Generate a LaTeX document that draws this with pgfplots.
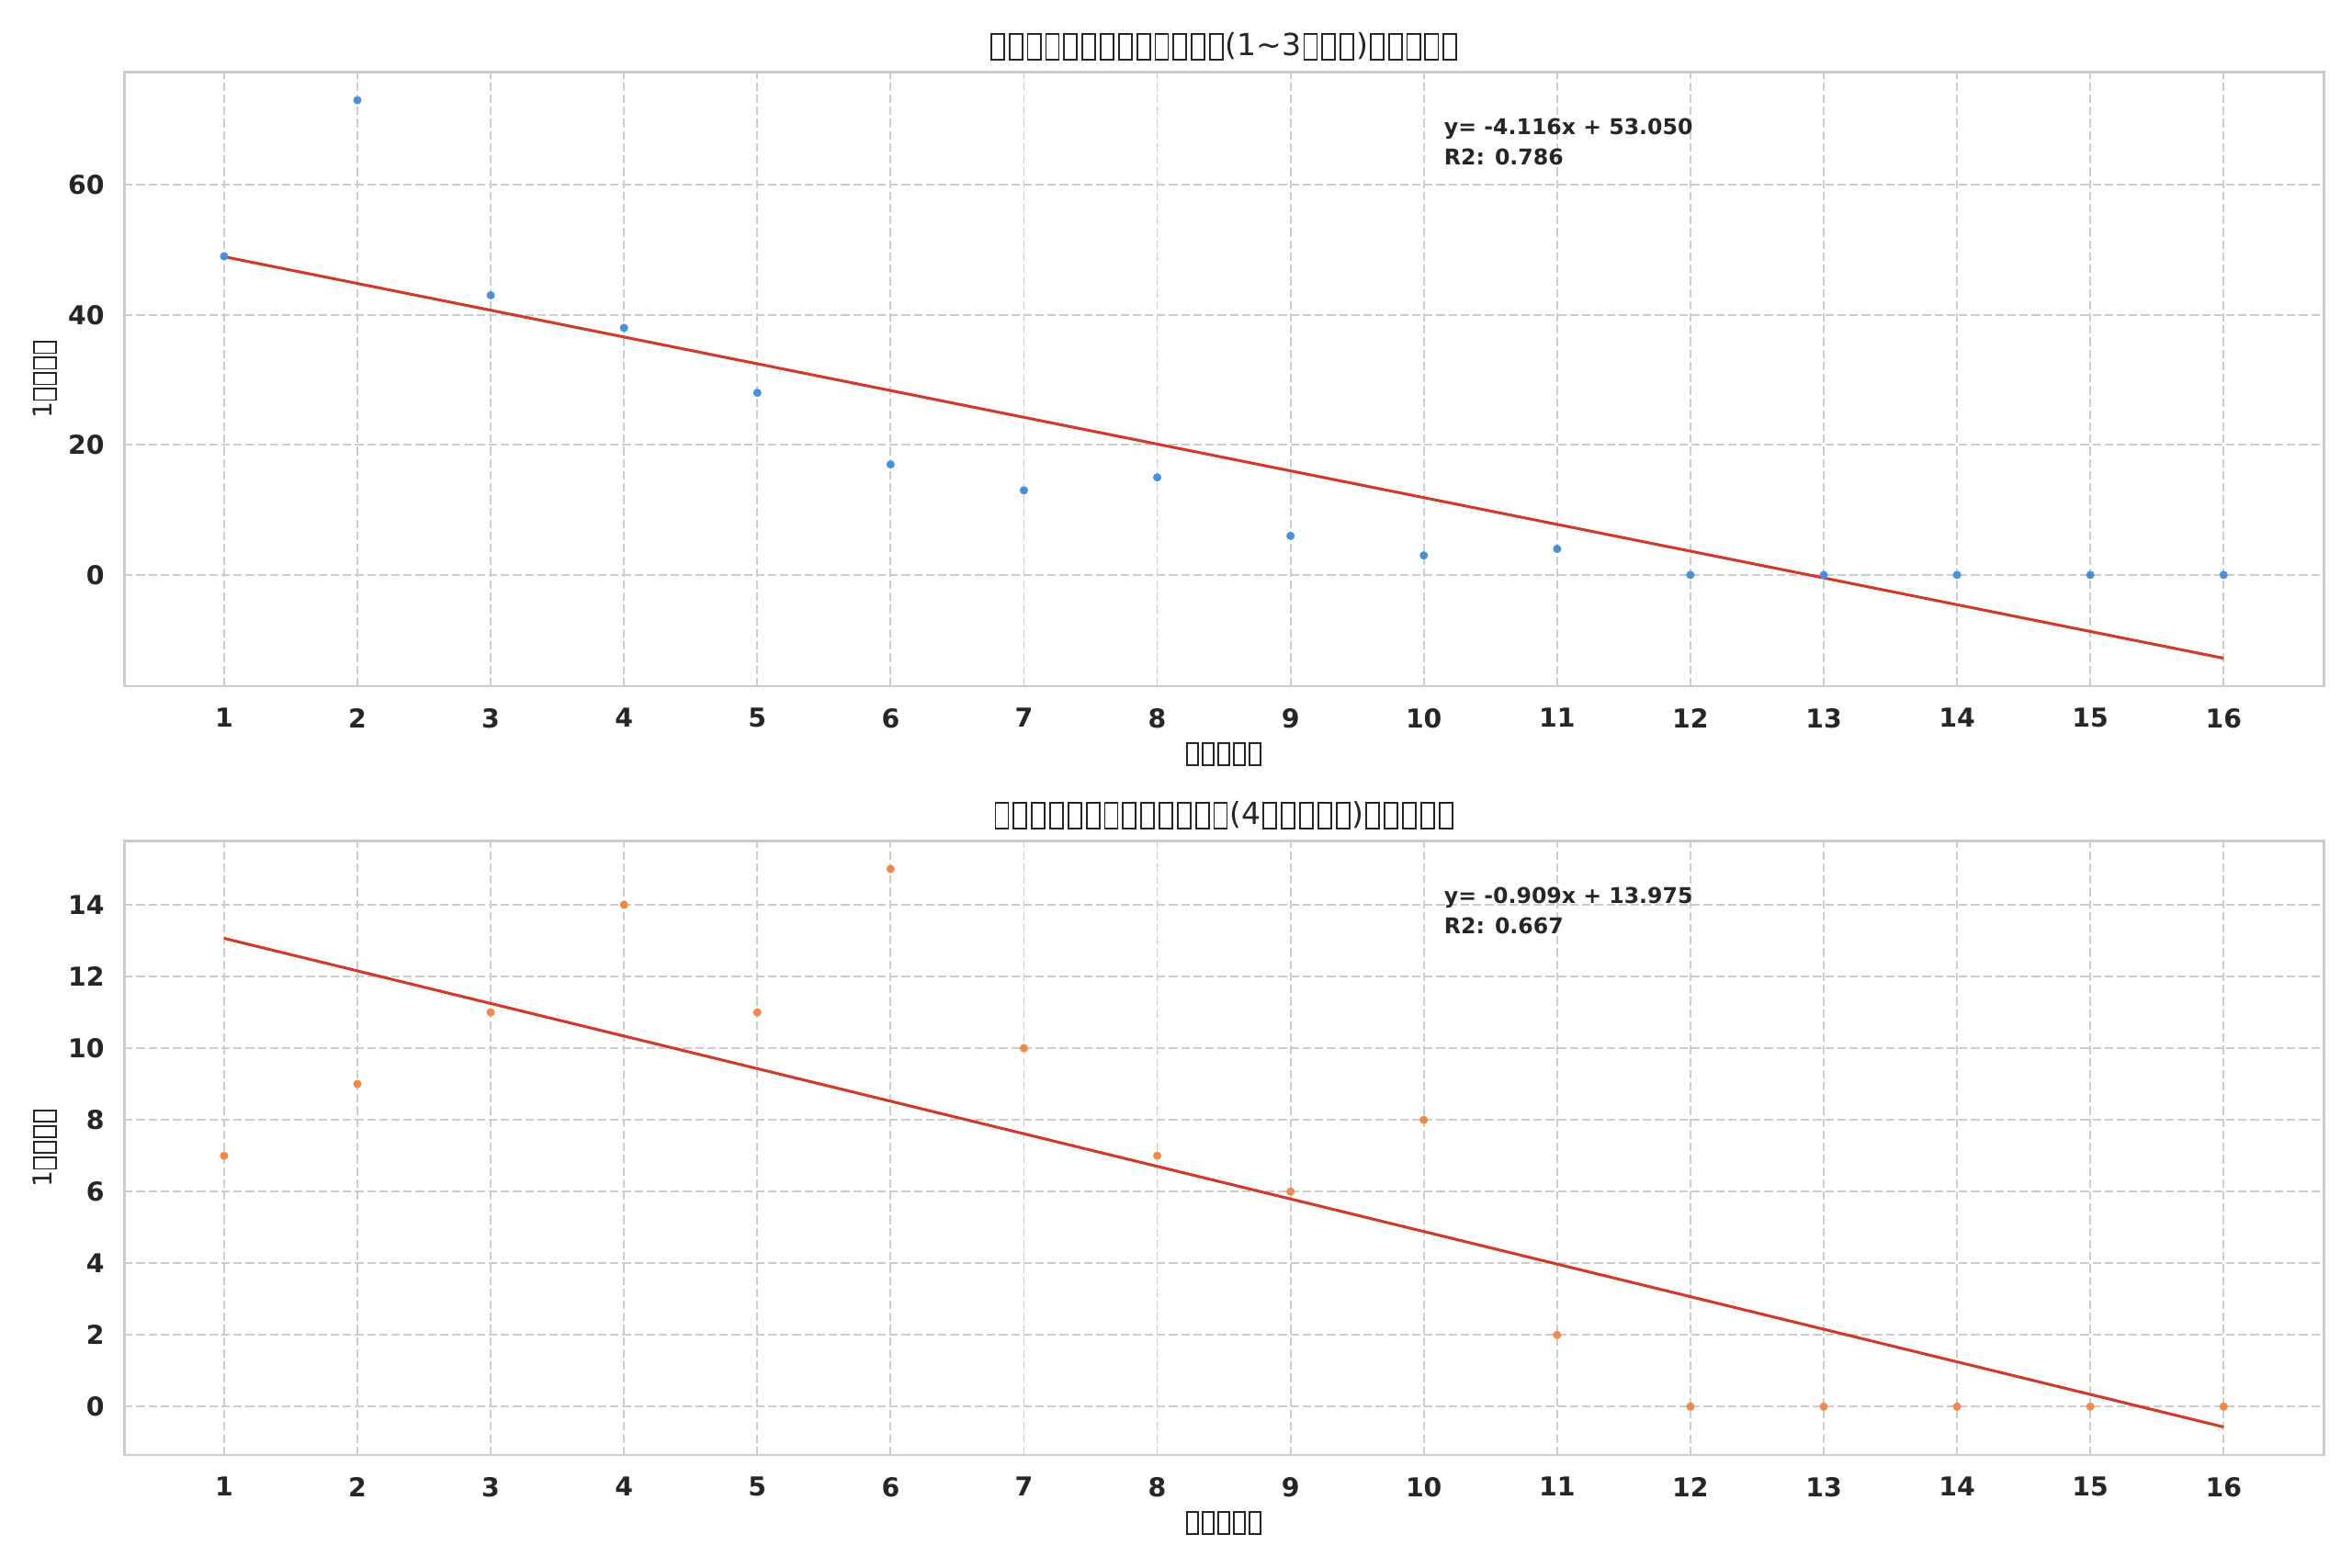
\documentclass[border=0pt]{standalone}
\usepackage{fontspec}
\setmainfont{DejaVu Sans}
\usepackage{pgfplots}
\pgfplotsset{compat=1.18}
\definecolor{ptblue}{HTML}{4A90D9}
\definecolor{ptorange}{HTML}{EF8A4A}
\definecolor{fitred}{HTML}{D03A2A}
\definecolor{frame}{HTML}{CCCCCC}
\definecolor{txt}{HTML}{262626}
\newcommand\tofu{\kern0.06em\raisebox{-0.12em}{\setlength\fboxsep{0pt}\setlength\fboxrule{0.055em}\fbox{\rule{0pt}{0.79em}\kern0.37em}}\kern0.06em}
\pgfplotsset{
 every axis title shift=0pt,
 mystyle/.style={
  scale only axis, width=1013.7pt, height=283pt,
  xmin=0.25, xmax=16.75, xtick={1,...,16},
  axis line style={draw=frame, line width=1.2pt},
  grid=major,
  major grid style={draw=frame, line width=0.75pt, dash pattern=on 3.9pt off 1.7pt},
  major tick length=0pt,
  tick style={draw=none},
  /pgf/number format/assume math mode=true,
  ticklabel style={font=\bfseries\fontsize{12}{14}\selectfont, text=txt},
  xticklabel style={anchor=north, inner sep=0pt, yshift=-10pt},
  yticklabel style={anchor=east, inner sep=0pt, xshift=-8.9pt},
  xlabel style={at={([yshift=-31.3pt]axis description cs:0.5,0)}, anchor=center, font=\fontsize{12}{14}\selectfont, text=txt},
  ylabel style={at={([xshift=-36.4pt]axis description cs:0,0.5)}, anchor=center, font=\fontsize{12}{14}\selectfont, text=txt},
  title style={at={([yshift=11.8pt]axis description cs:0.5,1)}, anchor=center, font=\fontsize{14}{17}\selectfont, text=txt},
 }
}
\begin{document}
\begin{tikzpicture}
\useasboundingbox (0,0) rectangle (1084pt,722.8pt);
\begin{axis}[mystyle, at={(57.2pt,406.5pt)}, anchor=south west,
  ymin=-17.1, ymax=77.3, ytick={0,20,40,60},
  title={\tofu\tofu\tofu\tofu\tofu\tofu\tofu\tofu\tofu\tofu\tofu\tofu\tofu(1\textasciitilde 3\tofu\tofu\tofu)\tofu\tofu\tofu\tofu\tofu},
  xlabel={\tofu\tofu\tofu\tofu\tofu}, ylabel={1\tofu\tofu\tofu\tofu}]
\addplot[only marks, mark=*, mark size=1.7pt, color=ptblue] coordinates {
(1,49) (2,73) (3,43) (4,38) (5,28) (6,17) (7,13) (8,15) (9,6) (10,3) (11,4) (12,0) (13,0) (14,0) (15,0) (16,0)};
\addplot[no marks, color=fitred, line width=1.3pt] coordinates {(1,48.934) (16,-12.806)};
\node[anchor=north west, inner sep=0pt, align=left, font=\bfseries\fontsize{10}{14}\selectfont, text=txt] at ([yshift=-21.2pt]rel axis cs:0.6,1) {y= -4.116x + 53.050\\R2: 0.786};
\end{axis}
\begin{axis}[mystyle, at={(57.2pt,52.1pt)}, anchor=south west,
  ymin=-1.35, ymax=15.78, ytick={0,2,...,14},
  title={\tofu\tofu\tofu\tofu\tofu\tofu\tofu\tofu\tofu\tofu\tofu\tofu\tofu(4\tofu\tofu\tofu\tofu\tofu)\tofu\tofu\tofu\tofu\tofu},
  xlabel={\tofu\tofu\tofu\tofu\tofu}, ylabel={1\tofu\tofu\tofu\tofu}]
\addplot[only marks, mark=*, mark size=1.7pt, color=ptorange] coordinates {
(1,7) (2,9) (3,11) (4,14) (5,11) (6,15) (7,10) (8,7) (9,6) (10,8) (11,2) (12,0) (13,0) (14,0) (15,0) (16,0)};
\addplot[no marks, color=fitred, line width=1.3pt] coordinates {(1,13.066) (16,-0.569)};
\node[anchor=north west, inner sep=0pt, align=left, font=\bfseries\fontsize{10}{14}\selectfont, text=txt] at ([yshift=-21.2pt]rel axis cs:0.6,1) {y= -0.909x + 13.975\\R2: 0.667};
\end{axis}
\end{tikzpicture}
\end{document}
